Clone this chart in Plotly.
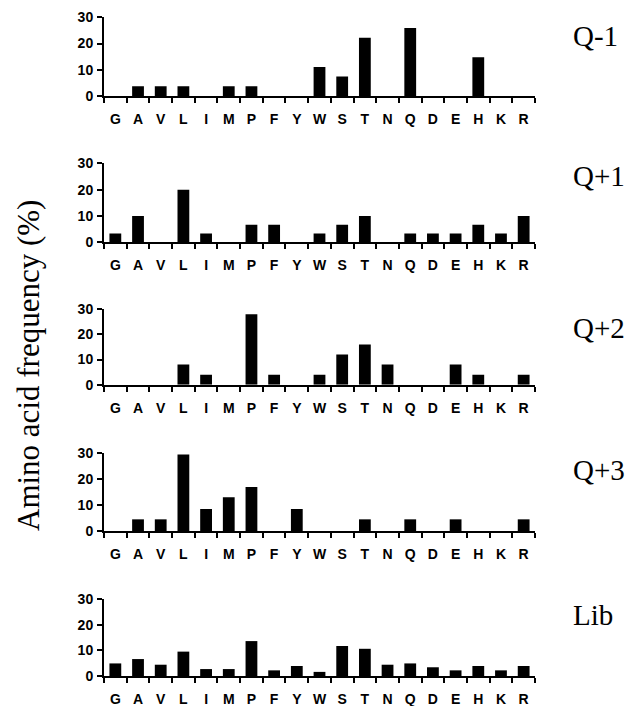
import plotly.graph_objects as go

amino_acids = ["G", "A", "V", "L", "I", "M", "P", "F", "Y", "W", "S", "T", "N", "Q", "D", "E", "H", "K", "R"]

q_minus1 = [0, 3.7, 3.7, 3.7, 0, 3.7, 3.7, 0, 0, 11.1, 7.4, 22.2, 0, 25.9, 0, 0, 14.8, 0, 0]
q_plus1 = [3.33, 10, 0, 20, 3.33, 0, 6.67, 6.67, 0, 3.33, 6.67, 10, 0, 3.33, 3.33, 3.33, 6.67, 3.33, 10]
q_plus2 = [0, 0, 0, 8, 4, 0, 28, 4, 0, 4, 12, 16, 8, 0, 0, 8, 4, 0, 4]
q_plus3 = [0, 4.5, 4.5, 29.5, 8.5, 13, 17, 0, 8.5, 0, 0, 4.5, 0, 4.5, 0, 4.5, 0, 0, 4.5]
library = [4.9, 6.6, 4.4, 9.5, 2.7, 2.7, 13.6, 2.2, 3.9, 1.6, 11.7, 10.6, 4.4, 4.9, 3.4, 2.2, 3.9, 2.2, 3.9]

panel_names = ["Q-1", "Q+1", "Q+2", "Q+3", "Lib"]
y_ticks = [0, 10, 20, 30]
y_title = "Amino acid frequency (%)"

series = [q_minus1, q_plus1, q_plus2, q_plus3, library]

W, H = 639, 706
# pixel positions (top of 30, zero line) of each panel
panel_px = [(17.3, 96), (163.3, 242.3), (309.3, 384.7), (453.3, 531), (599, 676)]
label_px = [36, 176, 328, 470, 615]
x0_px, x1_px = 104, 535

fig = go.Figure()
layout = dict(
    width=W, height=H,
    margin=dict(l=0, r=0, t=0, b=0, autoexpand=False),
    paper_bgcolor="white", plot_bgcolor="white",
    showlegend=False,
    bargap=0.48,
)
annotations = []
for i, (vals, name) in enumerate(zip(series, panel_names)):
    n = i + 1
    xa = "x" if n == 1 else f"x{n}"
    ya = "y" if n == 1 else f"y{n}"
    fig.add_trace(go.Bar(x=amino_acids, y=vals, xaxis=xa, yaxis=ya,
                         marker=dict(color="black", line=dict(width=0))))
    top, bot = panel_px[i]
    layout["xaxis" if n == 1 else f"xaxis{n}"] = dict(
        domain=[x0_px / W, x1_px / W], anchor=ya, automargin=False,
        type="category", categoryorder="array", categoryarray=amino_acids,
        tickson="boundaries", ticks="outside", ticklen=5, tickwidth=2, tickcolor="black",
        showline=True, linewidth=2, linecolor="black", showgrid=False, zeroline=False,
        tickangle=0,
        tickfont=dict(family="Liberation Sans, Arial", size=14, color="black", weight="bold"),
        ticklabelstandoff=9,
    )
    layout["yaxis" if n == 1 else f"yaxis{n}"] = dict(
        domain=[1 - bot / H, 1 - top / H], anchor=xa, automargin=False,
        range=[0, 30], tickvals=y_ticks, ticks="outside", ticklen=5, tickwidth=2, tickcolor="black",
        showline=True, linewidth=2, linecolor="black", showgrid=False, zeroline=False,
        tickfont=dict(family="Liberation Sans, Arial", size=14, color="black", weight="bold"),
        ticklabelstandoff=1,
    )
    annotations.append(dict(
        text=name, x=571 / W, y=1 - label_px[i] / H, xref="paper", yref="paper",
        xanchor="left", yanchor="middle", showarrow=False,
        font=dict(family="Liberation Serif, Times New Roman", size=29, color="black"),
    ))

annotations.append(dict(
    text=y_title, x=28 / W, y=1 - 366 / H, xref="paper", yref="paper",
    xanchor="center", yanchor="middle", textangle=-90, showarrow=False,
    font=dict(family="Liberation Serif, Times New Roman", size=31, color="black"),
))
layout["annotations"] = annotations
fig.update_layout(**layout)
fig.write_html("out.html", config={"displayModeBar": False},
               post_script="document.body.style.margin='0';document.body.style.padding='0';")
